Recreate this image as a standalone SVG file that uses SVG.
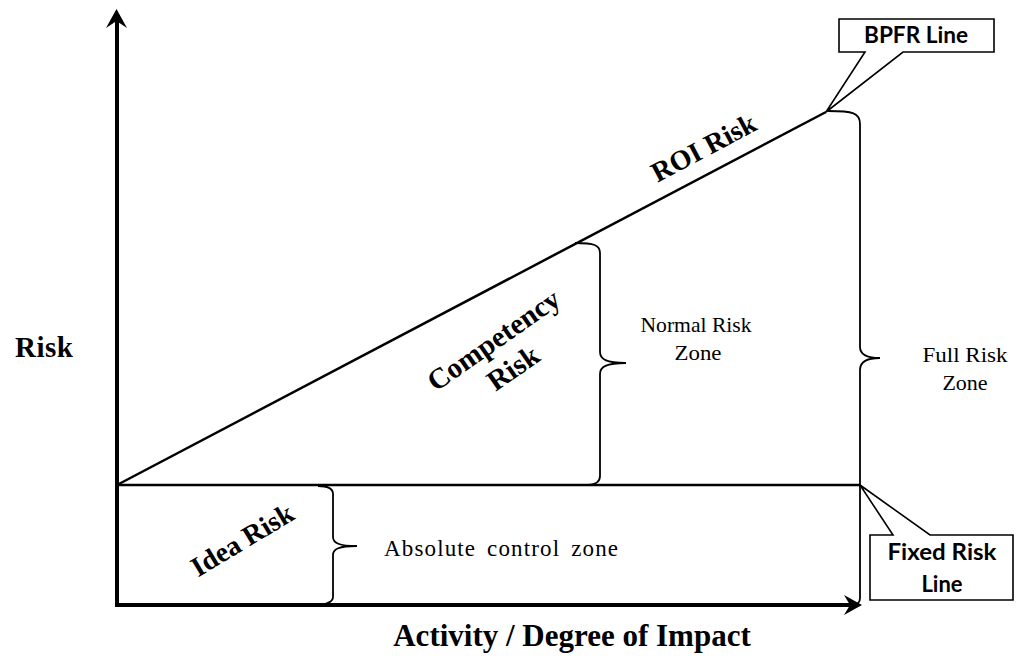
<svg xmlns="http://www.w3.org/2000/svg" width="1018" height="659" viewBox="0 0 1018 659">
<style>
.ax{stroke:#000;stroke-width:4;fill:none}
.ln{stroke:#000;stroke-width:2.5;fill:none}
.br{stroke:#000;stroke-width:1.8;fill:none}
.co{stroke:#000;stroke-width:1.6;fill:#fff}
.bs{font-family:"Liberation Serif","Times New Roman",serif;font-weight:bold;fill:#000}
.rs{font-family:"Liberation Serif","Times New Roman",serif;font-size:22px;fill:#000}
.cs{font-family:Lato,"Liberation Sans",sans-serif;font-weight:bold;font-size:22px;fill:#000}
</style>
<rect width="1018" height="659" fill="#fff"/>
<g id="connectors">
  <path class="ax" d="M117,607 V20"/>
  <path d="M116.5,9 L127,28 L116.5,21 L106,28 Z" fill="#000"/>
  <path class="ax" d="M115,605 H852"/>
  <path d="M862,605 L844,595 L850,605 L844,615 Z" fill="#000"/>
  <path class="ln" d="M117,485 L826,112"/>
  <path class="ln" d="M117,485 H860"/>
</g>
<g id="full-risk-brace">
  <path class="br" d="M828,111 C853,111 860,113 860,124 L860,347 C860,354 866,358 880,358 C866,358 860,362 860,370 L860,598 C860,603 857,605 852,605"/>
  <text class="rs" x="965" y="362" text-anchor="middle" textLength="85" lengthAdjust="spacingAndGlyphs">Full Risk</text>
  <text class="rs" x="965" y="390" text-anchor="middle">Zone</text>
</g>
<g id="normal-risk-brace">
  <path class="br" d="M575,243 C594,243 600,245 600,253 L600,352 C600,359 606,363 626,363 C606,363 600,367 600,374 L600,476 C600,482 596,484 588,485"/>
  <text class="rs" x="696" y="332" text-anchor="middle" textLength="111" lengthAdjust="spacingAndGlyphs">Normal Risk</text>
  <text class="rs" x="698" y="360" text-anchor="middle" textLength="47" lengthAdjust="spacingAndGlyphs">Zone</text>
</g>
<g id="idea-brace">
  <path class="br" d="M318,486 C328,486 333,488 333,494 L333,537 C333,543 339,546 357,546 C339,546 333,549 333,555 L333,597 C333,602 328,604 318,605"/>
  <text class="rs" x="384" y="556" textLength="234" lengthAdjust="spacing" style="font-size:23px;word-spacing:4px">Absolute control zone</text>
</g>
<g id="roi-risk">
  <text class="bs" font-size="28" text-anchor="middle" transform="translate(708,156) rotate(-28)">ROI Risk</text>
</g>
<g id="competency-risk">
  <g transform="translate(499,348) rotate(-35)">
    <text class="bs" font-size="29" text-anchor="middle" x="0" y="0">Competency</text>
    <text class="bs" font-size="29" text-anchor="middle" x="0" y="34">Risk</text>
  </g>
</g>
<g id="idea-risk">
  <text class="bs" font-size="28" text-anchor="middle" transform="translate(247,548) rotate(-31)">Idea Risk</text>
</g>
<g id="axis-labels">
  <text class="bs" font-size="29" x="15" y="357" textLength="58" lengthAdjust="spacing">Risk</text>
  <text class="bs" font-size="31" x="572" y="646" text-anchor="middle">Activity / Degree of Impact</text>
</g>
<g id="bpfr-callout">
  <path class="co" d="M839,19 H994 V52 H903 L826,112 L865,52 H839 Z"/>
  <text class="cs" x="916" y="43" text-anchor="middle" textLength="104" lengthAdjust="spacingAndGlyphs">BPFR Line</text>
</g>
<g id="fixed-risk-callout">
  <path class="co" d="M870,535 H893 L860,485 L930,535 H1013 V600 H870 Z"/>
  <text class="cs" x="942" y="560" text-anchor="middle" textLength="109" lengthAdjust="spacingAndGlyphs">Fixed Risk</text>
  <text class="cs" x="942" y="592" text-anchor="middle">Line</text>
</g>
</svg>
